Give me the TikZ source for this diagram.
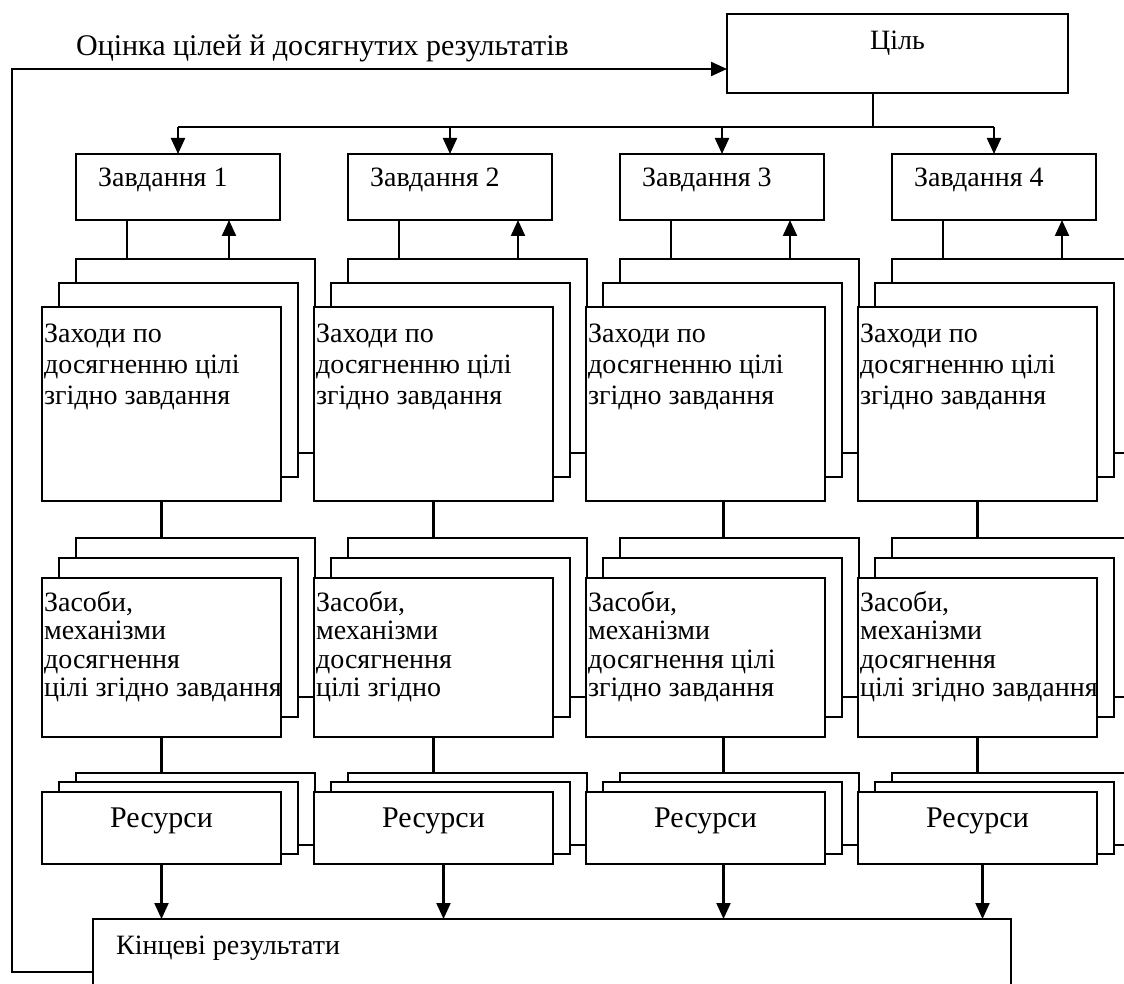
\documentclass[tikz,border=0pt]{standalone}
\usepackage{fontspec}
\setmainfont{Liberation Serif}
\usetikzlibrary{arrows.meta}

\begin{document}
\begin{tikzpicture}[x=1pt, y=-1pt, line width=2.2pt,
  box/.style = {draw, fill=white, anchor=north west, inner sep=0pt, outer sep=0pt, minimum width=239pt},
  task/.style = {box, minimum width=204pt, minimum height=66pt},
  mbox/.style = {box, minimum height=194pt},
  sbox/.style = {box, minimum height=159pt},
  rbox/.style = {box, minimum height=72pt},
  txt/.style = {inner sep=0pt, font=\fontsize{28}{31}\selectfont},
  mtxt/.style = {txt, anchor=north west, align=left, xshift=1pt, yshift=-16pt},
  stxt/.style = {txt, anchor=north west, align=left, xshift=1pt, yshift=-12pt, font=\fontsize{28}{28.5}\selectfont},
  ttxt/.style = {txt, anchor=west, xshift=21pt, yshift=7pt},
  rtxt/.style = {txt, yshift=7pt, font=\fontsize{30}{33}\selectfont},
  arr/.style = {-{Triangle[length=16pt,width=14pt]}}]
\useasboundingbox (0,0) rectangle (1124,984);
\clip (0,0) rectangle (1124,984);

% goal and label
\node[box, minimum width=341pt, minimum height=79pt, label={[txt, yshift=10pt]center:Ціль}] (goal) at (727,14) {};
\node[txt, anchor=west, font=\fontsize{30}{33}\selectfont] (eval) at (75,48) {Оцінка цілей й досягнутих результатів};

% tasks
\node[task, label={[ttxt]west:Завдання 1}] (t1) at (76,154) {};
\node[task, label={[ttxt]west:Завдання 2}] (t2) at (348,154) {};
\node[task, label={[ttxt]west:Завдання 3}] (t3) at (620,154) {};
\node[task, label={[ttxt]west:Завдання 4}] (t4) at (892,154) {};

% column 1
\node[mbox] (m1a) at (76,259) {};
\node[mbox] (m1b) at (59,283) {};
\node[mbox, label={[mtxt]north west:{Заходи по\\досягненню цілі\\згідно завдання}}] (m1) at (42,307) {};
\node[sbox] (s1a) at (76,538) {};
\node[sbox] (s1b) at (59,558) {};
\node[sbox, label={[stxt]north west:{Засоби,\\механізми\\досягнення\\цілі згідно завдання}}] (s1) at (42,578) {};
\node[rbox] (r1a) at (76,773) {};
\node[rbox] (r1b) at (59,782) {};
\node[rbox, label={[rtxt]center:Ресурси}] (r1) at (42,792) {};

% column 2
\node[mbox] (m2a) at (348,259) {};
\node[mbox] (m2b) at (331,283) {};
\node[mbox, label={[mtxt]north west:{Заходи по\\досягненню цілі\\згідно завдання}}] (m2) at (314,307) {};
\node[sbox] (s2a) at (348,538) {};
\node[sbox] (s2b) at (331,558) {};
\node[sbox, label={[stxt]north west:{Засоби,\\механізми\\досягнення\\цілі згідно}}] (s2) at (314,578) {};
\node[rbox] (r2a) at (348,773) {};
\node[rbox] (r2b) at (331,782) {};
\node[rbox, label={[rtxt]center:Ресурси}] (r2) at (314,792) {};

% column 3
\node[mbox] (m3a) at (620,259) {};
\node[mbox] (m3b) at (603,283) {};
\node[mbox, label={[mtxt]north west:{Заходи по\\досягненню цілі\\згідно завдання}}] (m3) at (586,307) {};
\node[sbox] (s3a) at (620,538) {};
\node[sbox] (s3b) at (603,558) {};
\node[sbox, label={[stxt]north west:{Засоби,\\механізми\\досягнення цілі\\згідно завдання}}] (s3) at (586,578) {};
\node[rbox] (r3a) at (620,773) {};
\node[rbox] (r3b) at (603,782) {};
\node[rbox, label={[rtxt]center:Ресурси}] (r3) at (586,792) {};

% column 4
\node[mbox] (m4a) at (892,259) {};
\node[mbox] (m4b) at (875,283) {};
\node[mbox, label={[mtxt]north west:{Заходи по\\досягненню цілі\\згідно завдання}}] (m4) at (858,307) {};
\node[sbox] (s4a) at (892,538) {};
\node[sbox] (s4b) at (875,558) {};
\node[sbox, label={[stxt]north west:{Засоби,\\механізми\\досягнення\\цілі згідно завдання}}] (s4) at (858,578) {};
\node[rbox] (r4a) at (892,773) {};
\node[rbox] (r4b) at (875,782) {};
\node[rbox, label={[rtxt]center:Ресурси}] (r4) at (858,792) {};

% final results
\node[box, minimum width=918pt, minimum height=100pt, label={[txt, anchor=west, xshift=22pt, yshift=-29pt]north west:Кінцеві результати}] (fin) at (93,919) {};

\coordinate (bus) at (873,127);
\coordinate (fbl) at (12,972);
\coordinate (fbt) at (12,69);

\draw (goal.south -| bus) -- (bus);
\draw (t1.north |- bus) -- (t4.north |- bus);
\draw[arr] (t1.north |- bus) -- (t1.north);
\draw[arr] (t2.north |- bus) -- (t2.north);
\draw[arr] (t3.north |- bus) -- (t3.north);
\draw[arr] (t4.north |- bus) -- (t4.north);

\draw ([xshift=51pt]t1.south west) -- ([xshift=51pt]m1a.north west);
\draw ([xshift=51pt]t2.south west) -- ([xshift=51pt]m2a.north west);
\draw ([xshift=51pt]t3.south west) -- ([xshift=51pt]m3a.north west);
\draw ([xshift=51pt]t4.south west) -- ([xshift=51pt]m4a.north west);
\draw[arr] ([xshift=153pt]m1a.north west) -- ([xshift=153pt]t1.south west);
\draw[arr] ([xshift=170pt]m2a.north west) -- ([xshift=170pt]t2.south west);
\draw[arr] ([xshift=170pt]m3a.north west) -- ([xshift=170pt]t3.south west);
\draw[arr] ([xshift=170pt]m4a.north west) -- ([xshift=170pt]t4.south west);

\draw (m1.south) -- (m1.south |- s1a.north);
\draw (m2.south) -- (m2.south |- s2a.north);
\draw ([xshift=18pt]m3.south) -- ([xshift=18pt]m3.south |- s3a.north);
\draw (m4.south) -- (m4.south |- s4a.north);

\draw (s1.south) -- (s1.south |- r1a.north);
\draw (s2.south) -- (s2.south |- r2a.north);
\draw ([xshift=18pt]s3.south) -- ([xshift=18pt]s3.south |- r3a.north);
\draw (s4.south) -- (s4.south |- r4a.north);

\draw[arr] (r1.south) -- (r1.south |- fin.north);
\draw[arr] ([xshift=10pt]r2.south) -- ([xshift=10pt]r2.south |- fin.north);
\draw[arr] ([xshift=18pt]r3.south) -- ([xshift=18pt]r3.south |- fin.north);
\draw[arr] ([xshift=5pt]r4.south) -- ([xshift=5pt]r4.south |- fin.north);

\draw[arr] (fin.west |- fbl) -- (fbl) -- (fbt) -- (fbt -| goal.west);
\end{tikzpicture}
\end{document}
